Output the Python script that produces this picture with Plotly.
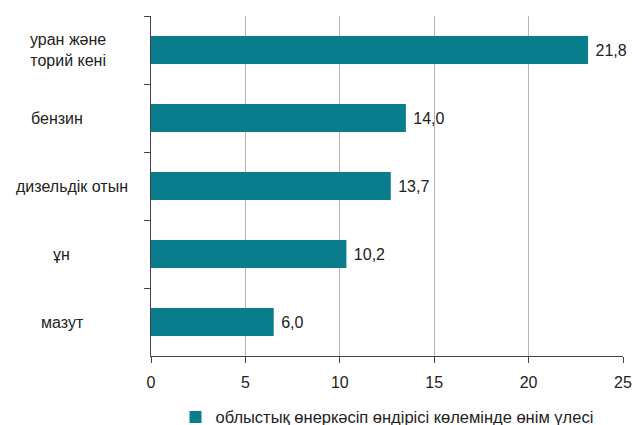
import plotly.graph_objects as go

categories = ["уран және<br>торий кені", "бензин", "дизельдік отын", "ұн", "мазут"]
bar_values = [23.15, 13.5, 12.7, 10.35, 6.5]
label_texts = ["21,8", "14,0", "13,7", "10,2", "6,0"]
series_name = "облыстық өнеркәсіп өндірісі көлемінде өнім үлесі"
x_ticks = [0, 5, 10, 15, 20, 25]
label_centers = [68, 57, 72, 61, 62]  # approximate pixel centres of the category labels

FONT = "Liberation Sans, Arial, sans-serif"
TEAL = "#0a7d8c"
TXT = "#222222"
FS = 16

W, H = 633, 425
ML, MR, MT, MB = 151, 10, 16, 69

fig = go.Figure()
fig.add_trace(go.Bar(
    y=categories,
    x=bar_values,
    orientation="h",
    marker=dict(color=TEAL, line=dict(width=0)),
    text=["\u00a0" + t for t in label_texts],
    textposition="outside",
    textfont=dict(family=FONT, size=FS, color=TXT),
    cliponaxis=False,
    name=series_name,
    showlegend=True,
    hoverinfo="skip",
))

plot_w = W - ML - MR
for c, cx in zip(categories, label_centers):
    fig.add_annotation(
        x=(cx - ML) / plot_w, xref="paper", y=c, yref="y",
        text=c, showarrow=False, xanchor="center", yanchor="middle",
        font=dict(family=FONT, size=FS, color=TXT),
        align="center",
    )

fig.update_layout(
    width=W, height=H,
    margin=dict(l=ML, r=MR, t=MT, b=MB, autoexpand=False),
    plot_bgcolor="white", paper_bgcolor="white",
    bargap=0.59,
    font=dict(family=FONT, size=FS, color=TXT),
    showlegend=True,
    legend=dict(
        orientation="h", x=0.5, xanchor="center", y=-0.18, yanchor="middle",
        font=dict(family=FONT, size=16.5, color=TXT),
        itemclick=False,
    ),
    xaxis=dict(
        range=[0, 25], tickvals=x_ticks, ticktext=[str(t) for t in x_ticks],
        showgrid=True, gridcolor="#b4b4b4", gridwidth=1,
        showline=True, linecolor="#444", linewidth=1,
        ticks="outside", ticklen=6, tickcolor="#444",
        ticklabelstandoff=6,
        zeroline=False, fixedrange=True, automargin=False,
        tickfont=dict(family=FONT, size=FS, color=TXT),
    ),
    yaxis=dict(
        type="category",
        categoryorder="array", categoryarray=categories,
        autorange="reversed",
        showticklabels=False,
        showgrid=False, showline=True, linecolor="#444", linewidth=1,
        ticks="outside", ticklen=6, tickcolor="#444",
        tickson="boundaries", automargin=False,
        zeroline=False, fixedrange=True,
    ),
)

fig.write_html(
    "out.html",
    config={"displayModeBar": False},
    post_script="document.body.style.margin='0';document.body.style.overflow='hidden';",
)
